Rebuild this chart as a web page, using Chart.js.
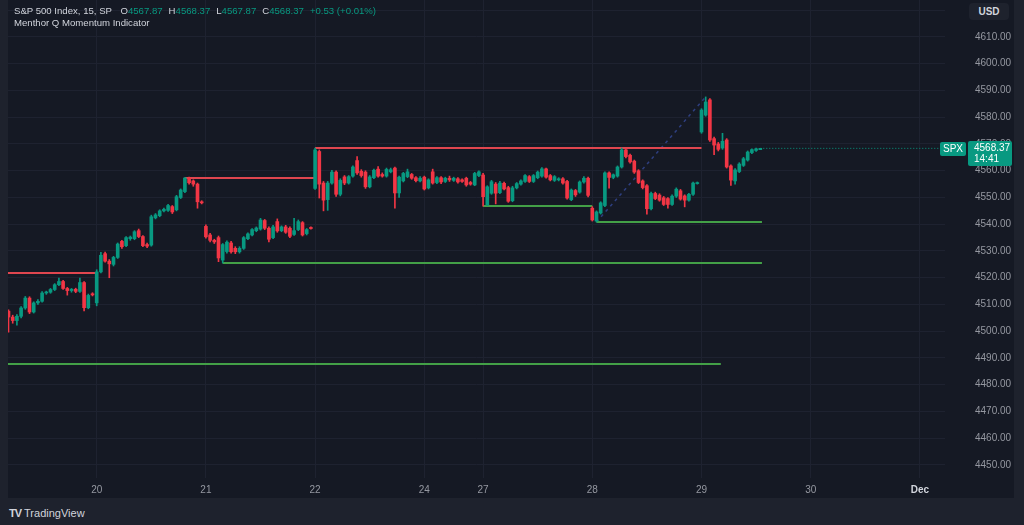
<!DOCTYPE html>
<html>
<head>
<meta charset="utf-8">
<script src="https://cdn.jsdelivr.net/npm/chart.js@4.4.1/dist/chart.umd.min.js"></script>
<style>
  html, body { margin: 0; padding: 0; }
  body { width: 1024px; height: 525px; background: #1e222d; position: relative; overflow: hidden;
         font-family: 'Liberation Sans', Arial, sans-serif; }
  #panel { position: absolute; left: 8px; top: 0; width: 1006px; height: 498px; background: #151924; }
  #chart { position: absolute; left: 0; top: 0; }
  .legend { position: absolute; left: 6px; top: 5px; font-size: 9.6px; line-height: 12px; color: #d1d4dc; white-space: nowrap; }
  .legend .g { color: #089981; }
  .legend .k { margin-left: 6px; }
  .usd { position: absolute; left: 961px; top: 3px; width: 40px; height: 17px; border-radius: 4px; background: #1e222d;
         color: #d1d4dc; font-size: 10px; font-weight: bold; line-height: 17px; text-align: center; }
  .footer { position: absolute; left: 9px; top: 507px; font-size: 11px; color: #d1d4dc; }
  .footer b { font-size: 11px; letter-spacing: -1px; margin-right: 3px; }
</style>
</head>
<body>
<div id="panel">
  <canvas id="chart" width="1006" height="498"></canvas>
  <div class="legend">
    <div>S&amp;P 500 Index, 15, SP <span class="k">O</span><span class="g">4567.87</span><span class="k">H</span><span class="g">4568.37</span><span class="k">L</span><span class="g">4567.87</span><span class="k">C</span><span class="g">4568.37</span><span class="g k">+0.53 (+0.01%)</span></div>
    <div>Menthor Q Momentum Indicator</div>
  </div>
  <div class="usd">USD</div>
</div>
<div class="footer"><b>TV</b>TradingView</div>
<script>
// sessions (15 min bars); the first is cut at the left edge, the last two are empty future days
const sessionDates = ['17', '20', '21', '22', '24', '27', '28', '29', '30', 'Dec'];
const sessionBars  = [21, 26, 26, 26, 14, 26, 26, 26, 26, 26];

const opens = [
  // 17
  4507.5,4505.3,4504.0,4505.6,4508.7,4512.4,4507.2,4510.6,4511.2,4514.3,4514.6,4515.6,4517.4,4518.6,4516.0,4515.2,4515.7,4514.9,4518.2,4508.8,4514.0,
  // 20
  4510.6,4522.2,4529.0,4526.2,4525.0,4527.6,4533.6,4532.0,4534.6,4534.6,4537.6,4535.4,4532.4,4532.2,4542.4,4543.2,4545.0,4545.2,4546.6,4545.4,4550.0,4552.2,4557.2,4556.2,4555.0,4548.4,
  // 21
  4539.2,4536.0,4534.0,4535.0,4526.6,4529.8,4533.0,4531.0,4529.7,4531.0,4534.6,4536.0,4537.6,4538.2,4541.4,4538.5,4535.0,4541.0,4537.6,4539.0,4538.5,4536.2,4538.0,4540.6,4536.5,4538.8,
  // 22
  4553.4,4567.2,4555.4,4549.2,4555.4,4559.5,4551.2,4557.7,4555.4,4558.0,4563.8,4559.8,4559.5,4554.0,4557.4,4560.6,4558.6,4558.0,4559.6,4561.0,4551.7,4556.2,4557.8,4558.6,4557.4,4556.2,
  // 24
  4557.6,4553.6,4559.6,4555.6,4557.4,4556.0,4557.2,4556.4,4557.0,4556.6,4557.2,4555.6,4554.7,4558.2,
  // 27
  4558.4,4547.2,4551.6,4555.0,4551.8,4555.3,4553.7,4548.8,4553.6,4555.0,4556.0,4557.8,4556.0,4557.4,4558.0,4560.7,4558.2,4556.4,4556.6,4557.0,4556.0,4549.2,4552.6,4552.0,4555.8,4557.2,
  // 28
  4546.0,4541.2,4544.2,4547.0,4559.2,4557.5,4558.0,4561.4,4567.8,4565.8,4563.6,4560.0,4556.2,4554.4,4545.8,4551.5,4550.9,4549.9,4549.6,4547.4,4550.5,4552.5,4550.6,4549.0,4551.2,4555.2,
  // 29
  4574.5,4580.8,4586.5,4572.0,4570.0,4568.5,4571.5,4561.8,4556.2,4559.7,4562.0,4564.0,4566.8,4567.6,4567.87
];
const highs = [
  4508.0,4506.0,4506.2,4509.2,4513.0,4512.9,4511.0,4511.8,4514.8,4515.0,4516.0,4517.8,4519.9,4519.0,4516.4,4516.0,4516.1,4519.9,4518.6,4513.9,4514.4,
  4523.0,4529.5,4529.6,4526.8,4528.0,4533.0,4534.0,4535.4,4535.6,4537.6,4538.2,4535.8,4533.0,4543.4,4544.0,4545.4,4546.0,4547.4,4547.0,4550.8,4553.2,4557.4,4557.6,4556.6,4555.4,4548.8,
  4539.8,4536.6,4534.4,4535.6,4532.8,4533.8,4533.6,4531.6,4531.6,4535.4,4536.8,4538.4,4539.0,4542.2,4541.8,4539.0,4539.6,4542.0,4539.4,4539.6,4539.0,4542.2,4541.6,4541.0,4538.4,4539.0,
  4568.5,4567.8,4556.0,4556.0,4560.2,4560.0,4557.0,4558.2,4558.2,4561.8,4565.3,4560.4,4560.0,4558.2,4560.6,4561.6,4559.2,4561.0,4561.0,4561.4,4558.0,4559.4,4560.6,4559.0,4557.8,4557.8,
  4558.0,4557.0,4560.6,4557.8,4557.8,4557.6,4558.0,4557.6,4557.4,4557.0,4557.6,4556.0,4559.4,4560.0,
  4559.0,4554.4,4556.4,4555.6,4556.0,4555.8,4554.2,4554.2,4555.6,4556.6,4558.6,4558.2,4558.6,4559.9,4561.2,4561.0,4558.6,4558.2,4557.4,4557.4,4556.4,4553.2,4553.0,4556.2,4557.8,4557.6,
  4546.6,4545.0,4548.4,4559.6,4559.6,4558.8,4561.8,4568.5,4568.2,4566.2,4564.0,4560.4,4556.6,4554.8,4552.0,4552.0,4551.4,4550.4,4550.0,4551.0,4553.6,4553.0,4551.0,4551.6,4555.8,4555.8,
  4583.2,4587.6,4587.0,4572.6,4570.6,4574.0,4572.0,4562.2,4560.8,4563.0,4565.0,4567.4,4568.2,4568.5,4568.37
];
const lows = [
  4499.7,4503.0,4502.3,4505.0,4508.2,4506.6,4506.8,4510.0,4510.9,4513.8,4514.2,4515.2,4517.0,4515.6,4513.5,4514.6,4514.4,4514.5,4507.6,4508.4,4513.2,
  4509.5,4521.8,4525.8,4520.0,4524.4,4527.2,4531.0,4531.6,4534.0,4534.2,4535.0,4531.6,4531.2,4531.8,4542.0,4542.8,4544.6,4544.8,4544.0,4545.0,4549.6,4551.8,4555.0,4554.2,4546.0,4547.6,
  4534.8,4533.4,4532.8,4526.0,4525.5,4529.2,4529.2,4529.0,4529.2,4530.6,4534.2,4535.6,4537.2,4537.8,4538.0,4533.4,4534.6,4537.0,4537.2,4536.6,4535.0,4535.8,4537.6,4535.6,4536.0,4538.2,
  4553.0,4549.8,4545.0,4545.2,4555.0,4550.4,4550.6,4554.8,4555.0,4557.6,4558.6,4557.6,4553.4,4553.6,4557.0,4557.6,4557.6,4557.6,4559.2,4546.0,4550.0,4555.8,4557.4,4556.8,4555.8,4555.8,
  4552.8,4553.2,4555.0,4555.2,4555.2,4555.6,4556.0,4556.0,4555.4,4555.6,4554.2,4554.6,4554.4,4557.8,
  4546.8,4547.0,4551.2,4547.6,4551.4,4552.8,4548.2,4548.4,4553.2,4554.6,4555.6,4555.6,4555.6,4557.0,4557.6,4557.2,4556.2,4556.0,4556.2,4555.0,4549.4,4548.8,4550.4,4551.6,4555.4,4550.2,
  4541.2,4540.8,4543.8,4546.6,4553.5,4557.0,4557.6,4561.0,4564.8,4562.8,4559.0,4555.2,4553.2,4543.8,4545.4,4549.2,4548.6,4547.0,4546.0,4547.0,4550.0,4549.0,4546.5,4548.6,4550.8,4555.0,
  4574.0,4580.4,4571.0,4566.0,4567.4,4568.0,4561.0,4554.5,4555.0,4559.3,4561.6,4563.6,4566.4,4567.2,4567.87
];
const closes = [
  4505.3,4504.0,4505.6,4508.7,4512.4,4507.2,4510.6,4511.2,4514.3,4514.6,4515.6,4517.4,4518.6,4516.0,4515.2,4515.7,4514.9,4518.2,4508.8,4513.4,4513.6,
  4522.2,4528.4,4526.2,4525.2,4527.6,4532.6,4531.6,4535.0,4535.2,4537.2,4535.4,4532.0,4531.8,4542.8,4543.5,4545.0,4545.6,4547.0,4544.6,4550.3,4552.8,4557.3,4555.5,4555.0,4548.4,4548.0,
  4535.3,4534.0,4533.4,4527.4,4532.4,4533.3,4529.7,4529.7,4531.0,4535.0,4536.4,4538.0,4538.6,4541.6,4538.5,4534.4,4539.0,4537.5,4539.0,4537.0,4535.5,4537.6,4541.0,4536.0,4538.0,4538.4,
  4567.8,4555.0,4549.0,4555.4,4559.5,4551.2,4556.4,4555.4,4557.8,4561.4,4559.2,4558.2,4554.0,4557.7,4560.2,4558.0,4558.0,4560.5,4560.4,4551.7,4557.6,4559.0,4559.6,4557.2,4556.3,4557.2,
  4553.2,4556.6,4555.4,4557.4,4555.8,4557.2,4556.6,4557.2,4555.8,4556.0,4554.7,4555.0,4559.0,4559.6,
  4550.3,4554.0,4555.9,4551.6,4555.4,4553.2,4548.6,4553.6,4555.2,4556.2,4558.2,4556.0,4558.2,4559.5,4560.7,4557.6,4556.6,4557.8,4557.0,4555.4,4549.8,4552.8,4551.0,4555.8,4557.2,4550.8,
  4541.6,4544.6,4548.0,4559.2,4557.5,4558.5,4561.4,4567.8,4565.3,4563.3,4559.5,4555.6,4553.7,4545.8,4551.5,4549.6,4549.0,4547.4,4547.4,4550.5,4553.1,4549.4,4549.0,4551.2,4555.4,4555.4,
  4582.7,4585.7,4571.5,4569.6,4568.0,4571.0,4561.4,4556.5,4560.3,4562.5,4564.5,4567.0,4567.9,4568.2,4568.37
];

// Menthor Q levels: price, first bar, last bar, kind
const levelPrices = [4521.8, 4557.3, 4568.5, 4525.5, 4546.8, 4540.8, 4487.8];
const levelFrom   = [-1, 42, 73, 51, 113, 140, -1];
const levelTo     = [21, 73, 165, 179.4, 139, 179.4, 169.6];
const levelKind   = ['res', 'res', 'res', 'sup', 'sup', 'sup', 'sup'];

// dotted trend line (bar, price)
const trendBars   = [140, 166];
const trendPrices = [4540.8, 4587.6];

const priceTicks = [4450, 4460, 4470, 4480, 4490, 4500, 4510, 4520, 4530, 4540, 4550, 4560, 4570, 4580, 4590, 4600, 4610, 4620];
const lastPrice = 4568.37;
const countdown = '14:41';

const UP = '#089981', DOWN = '#f23645';
const GRID = '#1e2230';

// first bar index of each session; the partial first session gets no label
const dayStart = [];
sessionBars.reduce((acc, n) => { dayStart.push(acc); return acc + n; }, 0);
const tickLabel = {};
dayStart.forEach((s, k) => { if (k > 0) tickLabel[s] = sessionDates[k]; });
const labelledStarts = dayStart.slice(1);

const lastIdx = closes.length - 1;
const xMin = -0.12, xMax = 222.98;
const isUp = i => closes[i] >= opens[i];

const datasets = [];
levelPrices.forEach((p, k) => {
  datasets.push({
    type: 'line',
    data: [{ x: levelFrom[k], y: p }, { x: levelTo[k], y: p }],
    borderColor: levelKind[k] === 'res' ? '#e0464f' : '#43a047',
    borderWidth: 2,
    pointRadius: 0,
    order: 3
  });
});
datasets.push({
  type: 'line',
  data: trendBars.map((b, k) => ({ x: b, y: trendPrices[k] })),
  borderColor: 'rgba(52, 72, 150, 0.8)',
  borderWidth: 1.5,
  borderDash: [3, 4],
  pointRadius: 0,
  order: 3
});
datasets.push({
  type: 'line',
  data: [{ x: lastIdx, y: lastPrice }, { x: xMax + 1, y: lastPrice }],
  borderColor: UP,
  borderWidth: 1,
  borderDash: [1, 2],
  pointRadius: 0,
  order: 3
});
// wicks
datasets.push({
  type: 'bar',
  data: highs.map((h, i) => ({ x: i, y: [lows[i], h] })),
  backgroundColor: ctx => isUp(ctx.dataIndex) ? UP : DOWN,
  barThickness: 1,
  grouped: false,
  order: 2
});
// bodies
datasets.push({
  type: 'bar',
  data: opens.map((o, i) => ({ x: i, y: [o, closes[i]] })),
  backgroundColor: ctx => isUp(ctx.dataIndex) ? UP : DOWN,
  barThickness: 3,
  minBarLength: 1,
  grouped: false,
  order: 1
});

const priceTag = {
  id: 'priceTag',
  afterDraw(chart) {
    const c = chart.ctx;
    const y = Math.round(chart.scales.y.getPixelForValue(lastPrice));
    c.save();
    c.fillStyle = UP;
    c.beginPath(); c.roundRect(932, y - 6, 26, 14, 2); c.fill();
    c.beginPath(); c.roundRect(960, y - 7, 44, 25, 2); c.fill();
    c.fillStyle = '#ffffff';
    c.font = '10px "Liberation Sans", Arial, sans-serif';
    c.textBaseline = 'middle';
    c.textAlign = 'center';
    c.fillText('SPX', 945, y + 1);
    c.textAlign = 'left';
    c.fillText(lastPrice.toFixed(2), 966, y);
    c.fillText(countdown, 966, y + 11);
    c.restore();
  }
};

new Chart(document.getElementById('chart').getContext('2d'), {
  data: { datasets },
  plugins: [priceTag],
  options: {
    responsive: false,
    animation: false,
    events: [],
    layout: { padding: 0 },
    plugins: { legend: { display: false }, tooltip: { enabled: false } },
    scales: {
      x: {
        type: 'linear',
        min: xMin,
        max: xMax,
        offset: false,
        grid: { color: GRID, drawTicks: false, offset: false },
        border: { display: false },
        afterBuildTicks: s => { s.ticks = labelledStarts.filter(v => v >= s.min && v <= s.max).map(v => ({ value: v })); },
        afterFit: s => { s.height = 20; s.paddingLeft = 0; s.paddingRight = 0; },
        ticks: {
          autoSkip: false,
          maxRotation: 0,
          padding: 6,
          color: c => (c.tick && tickLabel[c.tick.value] === 'Dec') ? '#d1d4dc' : '#9598a1',
          font: c => ({ family: '"Liberation Sans", Arial, sans-serif', size: 10, weight: (c.tick && tickLabel[c.tick.value] === 'Dec') ? 'bold' : 'normal' }),
          callback: v => tickLabel[v] || ''
        }
      },
      y: {
        position: 'right',
        min: 4445.14,
        max: 4623.83,
        grid: { color: GRID, drawTicks: false },
        border: { display: false },
        afterBuildTicks: s => { s.ticks = priceTicks.map(v => ({ value: v })); },
        afterFit: s => { s.width = 69; s.paddingTop = 0; s.paddingBottom = 0; },
        ticks: {
          padding: 30,
          color: '#9598a1',
          font: { family: '"Liberation Sans", Arial, sans-serif', size: 10 },
          callback: v => v >= 4620 ? '' : v.toFixed(2)
        }
      }
    }
  }
});
</script>
</body>
</html>
